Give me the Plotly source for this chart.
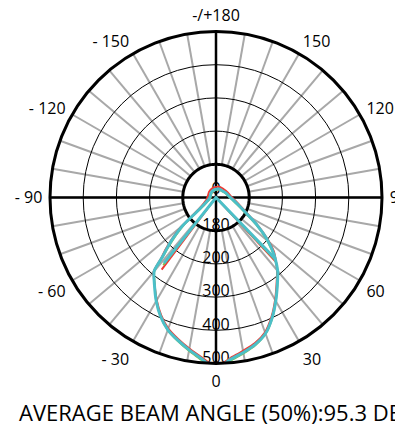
import plotly.graph_objects as go

# ---------------- data ----------------
ring_values = [100, 200, 300, 400, 500]
ring_labels = ["180", "200", "300", "400", "500"]
center_label = "0"

angle_tick_vals = list(range(0, 360, 10))
angle_tick_named = {0: "0", 30: "30", 60: "60", 90: "90", 120: "120", 150: "150",
                    180: "-/+180", 210: "- 150", 240: "- 120", 270: "- 90",
                    300: "- 60", 330: "- 30"}

# polyline order: V (left end -> centre -> right end), then lens and back side back to right end
cyan_theta = [-38.4, -38.4, 44, 40, 35, 30, 25, 20, 15, 10, 5, 0, -5, -10, -15, -20, -25, -30,
              -35, -40, -42, -44, -46, -48, -50, -53, -57, -65, -80, -100, -130, -160, 180,
              160, 137, 115, 92, 80, 70, 60, 56, 51, 47, 44]
cyan_r = [252, 0, 257, 289, 322, 360, 400, 436, 458, 474, 490, 516, 488, 466, 445, 424, 395, 360,
          323, 290, 242, 212, 185, 157, 129, 75, 50, 32, 21, 18, 20, 23, 25,
          27, 28, 33, 42, 55, 75, 118, 150, 196, 232, 257]

red_theta = [-37, -37, 42.9, 40, 35, 30, 25, 20, 15, 10, 5, 0, -5, -10, -15, -20, -25, -30,
             -35, -40, -42, -44, -46, -48, -50, -53, -57, -65, -80, -100, -130, -160, 180,
             160, 137, 115, 92, 80, 70, 60, 56, 51, 47, 42.9]
red_r = [272, 0, 266, 286, 318, 356, 396, 432, 454, 469, 486, 510, 484, 462, 441, 420, 391, 357,
         322, 292, 248, 220, 192, 164, 137, 84, 58, 40, 28, 25, 27, 30, 32,
         34, 34, 38, 47, 60, 80, 122, 154, 200, 238, 266]

green_theta = [-38, -38, 43.5, 40, 35, 30, 25, 20, 15, 10, 5, 0, -5, -10, -15, -20, -25, -30,
               -35, -40, -42, -44, -46, -48, -50, -53, -57, -65, -80, -100, -130, -160, 180,
               160, 137, 115, 92, 80, 70, 60, 56, 51, 47, 43.5]
green_r = [258, 0, 260, 289, 322, 360, 401, 437, 460, 477, 494, 524, 492, 469, 447, 425, 395, 360,
           322, 289, 238, 206, 176, 148, 120, 68, 44, 28, 18, 16, 18, 21, 23,
           25, 26, 31, 40, 52, 72, 114, 146, 192, 228, 260]

title_text = "AVERAGE BEAM ANGLE (50%):95.3 DEG"

FONT = "Open Sans"
fig = go.Figure()

# white disc inside first ring (no spokes there) with thick black ring
disc_theta = list(range(0, 361, 2))
fig.add_trace(go.Scatterpolar(r=[ring_values[0]] * len(disc_theta), theta=disc_theta,
                              mode="lines", fill="toself", fillcolor="white",
                              line=dict(color="black", width=3), hoverinfo="skip",
                              showlegend=False))
# black cross through centre
rmax = ring_values[-1]
fig.add_trace(go.Scatterpolar(r=[rmax, 0, rmax], theta=[180, 0, 0], mode="lines",
                              line=dict(color="black", width=2.5), showlegend=False,
                              hoverinfo="skip"))
fig.add_trace(go.Scatterpolar(r=[rmax, 0, rmax], theta=[270, 0, 90], mode="lines",
                              line=dict(color="black", width=2.5), showlegend=False,
                              hoverinfo="skip"))
# radial labels
label_shift = 14
fig.add_trace(go.Scatterpolar(r=[v - label_shift for v in ring_values], theta=[0] * len(ring_values),
                              mode="text", text=ring_labels,
                              textfont=dict(family=FONT, size=16, color="black"),
                              textposition="middle center", showlegend=False, hoverinfo="skip"))
fig.add_trace(go.Scatterpolar(r=[0], theta=[0], mode="text", text=[center_label],
                              textfont=dict(family=FONT, size=16, color="black"),
                              textposition="top center", showlegend=False, hoverinfo="skip"))

for th, rr, col, w in [(red_theta, red_r, "#ee3b35", 2),
                       (green_theta, green_r, "#7cc24a", 2),
                       (cyan_theta, cyan_r, "#4cbfc8", 3)]:
    # straight V through the centre
    fig.add_trace(go.Scatterpolar(r=rr[:3], theta=th[:3], mode="lines",
                                  line=dict(color=col, width=w), showlegend=False))
    # smooth lens + back lobe
    fig.add_trace(go.Scatterpolar(r=rr[2:], theta=th[2:], mode="lines",
                                  line=dict(color=col, width=w, shape="spline", smoothing=0.6),
                                  showlegend=False))

# page body has an 8px margin: figure sized to fit the window, coordinates shifted
PAD = 8
W, H = 403 - PAD, 430 - PAD
cx, cy, R = 216 - PAD, 197.5 - PAD, 166
fig.update_layout(
    width=W, height=H,
    margin=dict(l=0, r=0, t=0, b=0),
    paper_bgcolor="white",
    showlegend=False,
    polar=dict(
        domain=dict(x=[(cx - R) / W, (cx + R) / W], y=[1 - (cy + R) / H, 1 - (cy - R) / H]),
        bgcolor="white",
        radialaxis=dict(range=[0, rmax], tickvals=ring_values, showticklabels=False,
                        ticks="", gridcolor="black", gridwidth=1, showline=False),
        angularaxis=dict(rotation=-90, direction="counterclockwise",
                         tickvals=angle_tick_vals,
                         ticktext=[angle_tick_named.get(a, "") for a in angle_tick_vals],
                         ticks="outside", ticklen=3, tickcolor="rgba(0,0,0,0)",
                         gridcolor="#a8a8a8", gridwidth=1.5,
                         showline=True, linecolor="black", linewidth=3,
                         tickfont=dict(family=FONT, size=16, color="black")),
    ),
    annotations=[dict(text=title_text, x=(17 - PAD) / W, y=1 - (412 - PAD) / H,
                      xref="paper", yref="paper",
                      xanchor="left", yanchor="middle", showarrow=False,
                      font=dict(family=FONT, size=22, color="black"))],
)

fig.write_html("out.html")
